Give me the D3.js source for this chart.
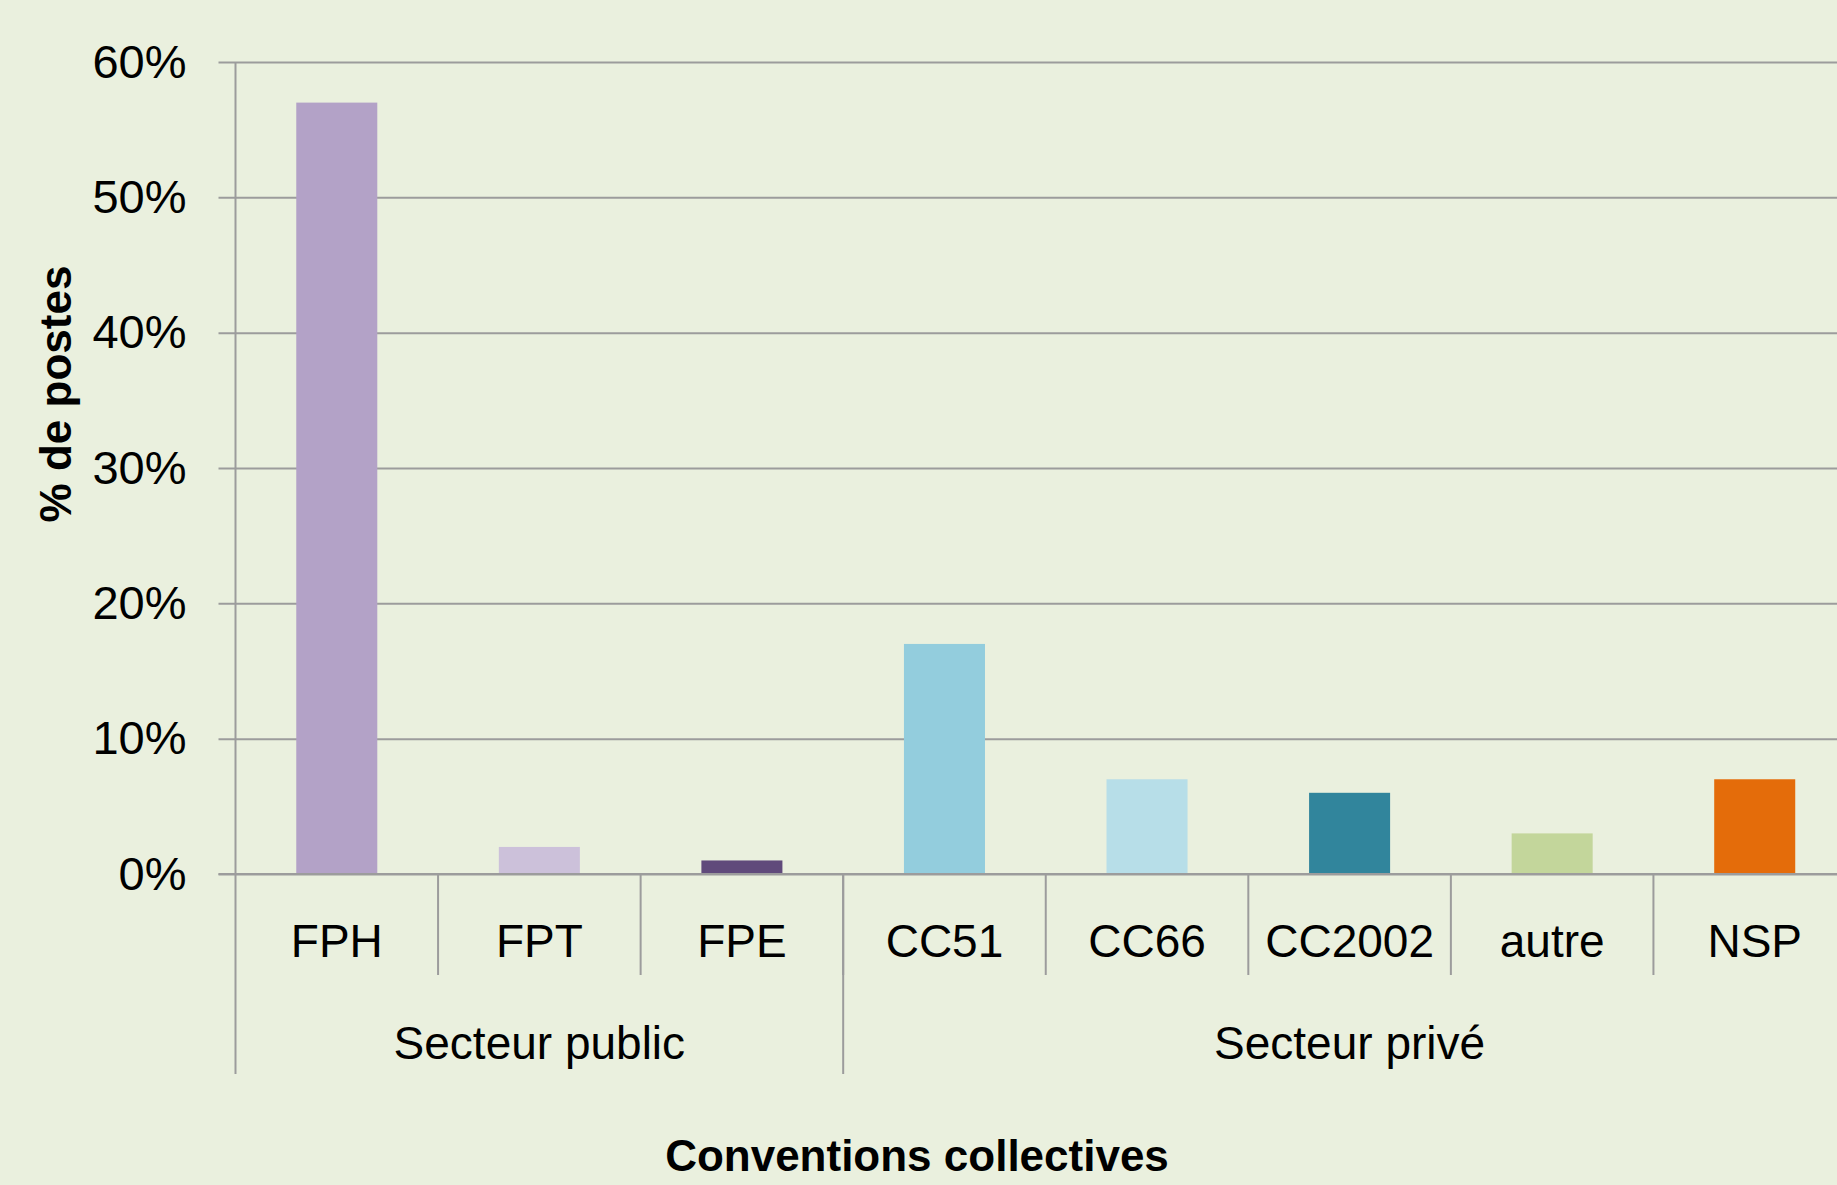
<!DOCTYPE html>
<html>
<head>
<meta charset="utf-8">
<script src="https://cdn.jsdelivr.net/npm/d3@7"></script>
<style>
  html, body { margin: 0; padding: 0; background: #eaf0de; overflow: hidden; }
  svg { display: block; font-family: "Liberation Sans", Arial, sans-serif; }
</style>
</head>
<body>
<svg></svg>
<script>
// data
const categories = ["FPH", "FPT", "FPE", "CC51", "CC66", "CC2002", "autre", "NSP"];
const values = [0.57, 0.02, 0.01, 0.17, 0.07, 0.06, 0.03, 0.07];
const groupNames = ["Secteur public", "Secteur privé"];
const groupSizes = [3, 5];
const yTicks = [0, 0.1, 0.2, 0.3, 0.4, 0.5, 0.6];
const palette = ["#b3a2c7", "#ccc1da", "#604a7b", "#93cddd", "#b7dee8", "#31859c", "#c3d69b", "#e46c0a"];

const w = 1837;
const h = 1185;
const plotLeft = 235.5;   // y axis
const plotRight = 1856;   // plot runs past the right edge (cropped in the original)
const plotTop = 62;
const plotBottom = 874;
const gridColor = "#9c9c9c";

let svg = d3.select("svg").attr("width", w).attr("height", h);

svg.append("rect").attr("width", w).attr("height", h).attr("fill", "#eaf0de");

let xScale = d3.scaleBand().domain(categories).range([plotLeft, plotRight]).padding(0);
let yScale = d3.scaleLinear().domain([0, 0.6]).range([plotBottom, plotTop]);

// gridlines + y ticks
let yAxis = d3.axisLeft(yScale)
  .tickValues(yTicks)
  .tickFormat(d3.format(".0%"))
  .tickSize(-(w - plotLeft))
  .tickSizeOuter(0)
  .tickPadding(49);

let gy = svg.append("g").attr("transform", "translate(" + plotLeft + ",0)").call(yAxis);
gy.select(".domain").remove();
gy.selectAll(".tick line")
  .attr("x1", -17)
  .attr("stroke", gridColor)
  .attr("stroke-width", 2);
gy.selectAll(".tick text")
  .attr("font-size", 47)
  .attr("font-family", "Liberation Sans, Arial, sans-serif")
  .attr("fill", "#000");

// bars
const bw = xScale.bandwidth();
svg.selectAll("rect.bar")
  .data(values)
  .enter()
  .append("rect")
  .attr("class", "bar")
  .attr("x", (d, i) => xScale(categories[i]) + bw * 0.3)
  .attr("width", bw * 0.4)
  .attr("y", d => yScale(d))
  .attr("height", d => yScale(0) - yScale(d))
  .attr("fill", (d, i) => palette[i]);

// redraw baseline over the bars
svg.append("line")
  .attr("x1", plotLeft - 17).attr("x2", w)
  .attr("y1", yScale(0)).attr("y2", yScale(0))
  .attr("stroke", gridColor).attr("stroke-width", 2);

// vertical axis line, running down to the group row
const catRowBottom = 975;
const groupRowBottom = 1074;
svg.append("line")
  .attr("x1", plotLeft).attr("x2", plotLeft)
  .attr("y1", plotTop).attr("y2", groupRowBottom)
  .attr("stroke", gridColor).attr("stroke-width", 2);

// category separators
categories.forEach((c, i) => {
  if (i == 0) return;
  svg.append("line")
    .attr("x1", xScale(c)).attr("x2", xScale(c))
    .attr("y1", plotBottom).attr("y2", catRowBottom)
    .attr("stroke", gridColor).attr("stroke-width", 2);
});

// category labels
svg.selectAll("text.cat")
  .data(categories)
  .enter()
  .append("text")
  .attr("class", "cat")
  .attr("x", d => xScale(d) + bw / 2)
  .attr("y", 941)
  .attr("dy", "0.35em")
  .attr("text-anchor", "middle")
  .attr("font-size", 46)
  .text(d => d);

// groups
let start = 0;
groupNames.forEach((g, gi) => {
  let x0 = xScale(categories[start]);
  let endIdx = start + groupSizes[gi] - 1;
  let x1 = xScale(categories[endIdx]) + bw;
  if (gi > 0) {
    svg.append("line")
      .attr("x1", x0).attr("x2", x0)
      .attr("y1", plotBottom).attr("y2", groupRowBottom)
      .attr("stroke", gridColor).attr("stroke-width", 2);
  }
  svg.append("text")
    .attr("x", (x0 + x1) / 2)
    .attr("y", 1043)
    .attr("dy", "0.35em")
    .attr("text-anchor", "middle")
    .attr("font-size", 46)
    .text(g);
  start += groupSizes[gi];
});

// axis titles
svg.append("text")
  .attr("x", 917).attr("y", 1156)
  .attr("dy", "0.35em")
  .attr("text-anchor", "middle")
  .attr("font-size", 44)
  .attr("font-weight", "bold")
  .text("Conventions collectives");

svg.append("text")
  .attr("transform", "translate(56,394) rotate(-90)")
  .attr("dy", "0.35em")
  .attr("text-anchor", "middle")
  .attr("font-size", 44)
  .attr("font-weight", "bold")
  .text("% de postes");
</script>
</body>
</html>
